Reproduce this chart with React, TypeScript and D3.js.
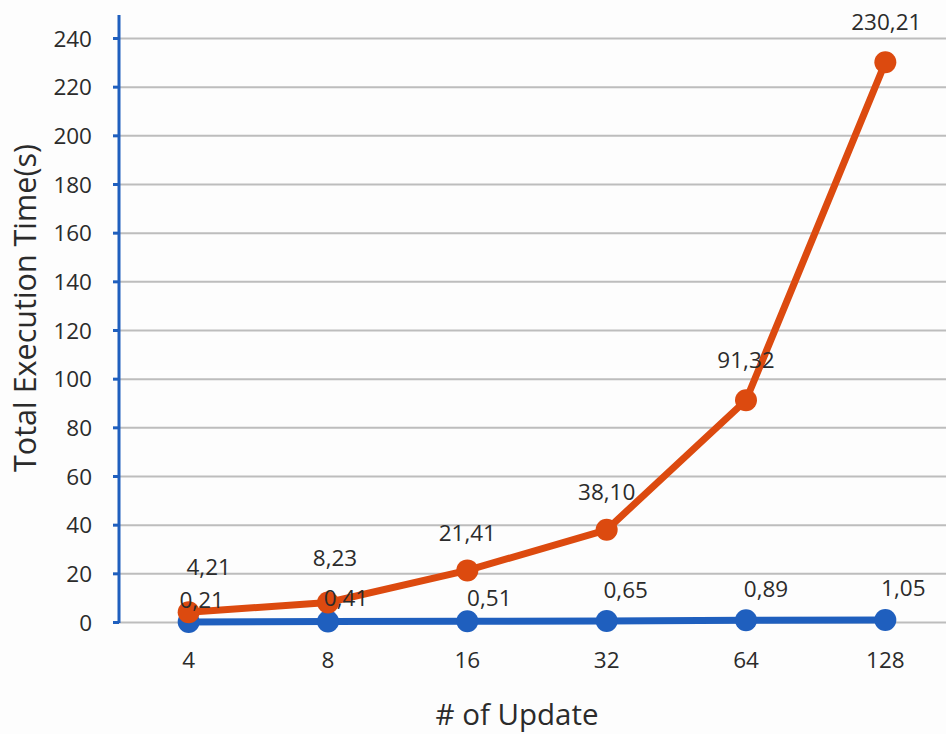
import React from "react";
import * as d3 from "d3";

const categories: string[] = ["4", "8", "16", "32", "64", "128"];
const seriesOrange: number[] = [4.21, 8.23, 21.41, 38.1, 91.32, 230.21];
const seriesBlue: number[] = [0.21, 0.41, 0.51, 0.65, 0.89, 1.05];
const orangeLabels: string[] = ["4,21", "8,23", "21,41", "38,10", "91,32", "230,21"];
const blueLabels: string[] = ["0,21", "0,41", "0,51", "0,65", "0,89", "1,05"];
const yTicks: number[] = [0, 20, 40, 60, 80, 100, 120, 140, 160, 180, 200, 220, 240];

// label offsets (style)
const orangeOffsets: [number, number][] = [
  [20, -45], [7, -45], [0, -38], [0, -38], [0, -40], [1, -40],
];
const blueOffsets: [number, number][] = [
  [13, -22], [18, -24], [22, -23], [19, -31], [20, -31], [18, -32],
];

const W = 946;
const H = 734;
const FONT = "'Open Sans', 'Noto Sans', sans-serif";
const ORANGE = "#DC4A0F";
const BLUE = "#1F5FBE";
const TEXT = "#2b2b2b";
const FS = 22.5;

export default function App() {
  const axisX = 119;
  const x = d3.scaleBand<string>().domain(categories).range([axisX, 955]).padding(0);
  const cx = (c: string) => (x(c) as number) + x.bandwidth() / 2;
  const y = d3.scaleLinear().domain([0, 240]).range([622.5, 38.5]);

  const line = d3
    .line<number>()
    .x((_, i) => cx(categories[i]))
    .y((d) => y(d));

  return (
    <svg
      width={W}
      height={H}
      style={{ position: "absolute", left: 0, top: 0, background: "#fdfdfd" }}
      fontFamily={FONT}
    >
      {yTicks.map((t) => (
        <g key={t}>
          <line x1={axisX} x2={W} y1={y(t)} y2={y(t)} stroke="#bdbdbd" strokeWidth={2} />
          <line x1={113} x2={axisX} y1={y(t)} y2={y(t)} stroke={BLUE} strokeWidth={3} />
          <text x={92} y={y(t)} dy="0.36em" textAnchor="end" fontSize={FS} fill={TEXT}>
            {t}
          </text>
        </g>
      ))}
      <line x1={axisX} x2={axisX} y1={15} y2={623} stroke={BLUE} strokeWidth={3} />

      {categories.map((c) => (
        <text key={c} x={cx(c)} y={660} dy="0.36em" textAnchor="middle" fontSize={FS} fill={TEXT}>
          {c}
        </text>
      ))}

      <path d={line(seriesBlue) || ""} fill="none" stroke={BLUE} strokeWidth={7} />
      {seriesBlue.map((v, i) => (
        <circle key={"b" + i} cx={cx(categories[i])} cy={y(v)} r={11} fill={BLUE} />
      ))}
      <path d={line(seriesOrange) || ""} fill="none" stroke={ORANGE} strokeWidth={7} />
      {seriesOrange.map((v, i) => (
        <circle key={"o" + i} cx={cx(categories[i])} cy={y(v)} r={11} fill={ORANGE} />
      ))}

      {seriesOrange.map((v, i) => (
        <text
          key={"ol" + i}
          x={cx(categories[i]) + orangeOffsets[i][0]}
          y={y(v) + orangeOffsets[i][1]}
          dy="0.36em"
          textAnchor="middle"
          fontSize={FS}
          fill={TEXT}
        >
          {orangeLabels[i]}
        </text>
      ))}
      {seriesBlue.map((v, i) => (
        <text
          key={"bl" + i}
          x={cx(categories[i]) + blueOffsets[i][0]}
          y={y(v) + blueOffsets[i][1]}
          dy="0.36em"
          textAnchor="middle"
          fontSize={FS}
          fill={TEXT}
        >
          {blueLabels[i]}
        </text>
      ))}

      <text
        transform={`translate(25, 308) rotate(-90)`}
        dy="0.36em"
        textAnchor="middle"
        fontSize={30.5}
        fill={TEXT}
      >
        Total Execution Time(s)
      </text>
      <text x={517} y={725} textAnchor="middle" fontSize={29.5} fill={TEXT}>
        # of Update
      </text>
    </svg>
  );
}
